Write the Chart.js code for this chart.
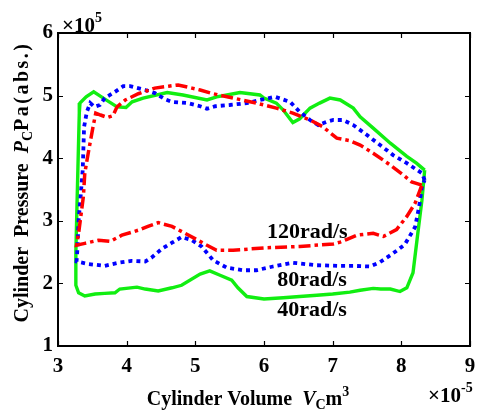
<!DOCTYPE html>
<html>
<head>
  <title>Cylinder Pressure vs Volume</title>
  <script src="https://cdn.jsdelivr.net/npm/chart.js"></script>
  <style>
    body {
      margin: 0;
      background: #fff;
    }
    #wrap {
      width: 478px;
      height: 414px;
      position: relative;
    }
  </style>
</head>
<body>

  <div id="wrap">
    <canvas id="pvChart"></canvas>
  </div>

  <script>
    // volume in 1e-5 m^3, pressure in 1e5 Pa
    const vol40 = [8.34, 8.22, 8.08, 7.84, 7.59, 7.40, 7.30, 7.11, 6.96, 6.81, 6.67, 6.52, 6.42, 6.28, 6.18, 6.00, 5.94, 5.65, 5.46, 5.31, 5.17, 4.82, 4.59, 4.24, 4.08, 3.99, 3.86, 3.66, 3.52, 3.41, 3.32, 3.31, 3.28, 3.26, 3.26, 3.30, 3.39, 3.54, 3.68, 3.83, 3.90, 4.15, 4.27, 4.46, 4.66, 4.80, 5.07, 5.21, 5.36, 5.53, 5.62, 5.75, 6.00, 6.28, 6.52, 6.77, 7.00, 7.25, 7.40, 7.59, 7.70, 7.84, 7.98, 8.08, 8.17, 8.24, 8.30, 8.34];
    const pres40 = [3.81, 3.92, 4.03, 4.24, 4.48, 4.66, 4.80, 4.93, 4.96, 4.88, 4.80, 4.63, 4.57, 4.77, 4.88, 4.96, 5.01, 5.05, 5.01, 4.98, 4.93, 5.01, 5.05, 4.96, 4.90, 4.81, 4.82, 4.96, 5.06, 4.98, 4.88, 4.72, 3.40, 2.50, 1.97, 1.85, 1.80, 1.83, 1.84, 1.85, 1.91, 1.94, 1.91, 1.88, 1.93, 1.97, 2.15, 2.20, 2.13, 2.05, 1.93, 1.79, 1.75, 1.77, 1.79, 1.81, 1.83, 1.86, 1.89, 1.92, 1.91, 1.91, 1.87, 1.93, 2.17, 2.80, 3.33, 3.81];

    const vol80 = [8.34, 8.30, 8.08, 7.88, 7.69, 7.50, 7.30, 7.15, 7.01, 6.91, 6.79, 6.67, 6.52, 6.38, 6.16, 5.94, 5.75, 5.50, 5.29, 5.17, 5.07, 4.89, 4.66, 4.56, 4.41, 4.27, 4.05, 3.95, 3.83, 3.68, 3.61, 3.53, 3.47, 3.42, 3.38, 3.36, 3.30, 3.28, 3.27, 3.44, 3.68, 3.88, 4.07, 4.27, 4.36, 4.51, 4.66, 4.80, 4.95, 5.09, 5.26, 5.46, 5.70, 5.89, 6.13, 6.42, 6.77, 7.11, 7.30, 7.54, 7.69, 7.88, 8.05, 8.20, 8.26, 8.30, 8.34];
    const pres80 = [3.65, 3.76, 3.92, 4.05, 4.21, 4.37, 4.53, 4.61, 4.61, 4.58, 4.53, 4.61, 4.74, 4.90, 4.98, 4.93, 4.88, 4.85, 4.83, 4.79, 4.83, 4.88, 4.90, 4.94, 5.04, 5.09, 5.15, 5.15, 5.06, 4.96, 4.85, 4.82, 4.88, 4.74, 4.50, 3.81, 3.00, 2.50, 2.35, 2.31, 2.28, 2.33, 2.36, 2.35, 2.41, 2.55, 2.65, 2.74, 2.69, 2.59, 2.37, 2.25, 2.21, 2.21, 2.27, 2.33, 2.29, 2.28, 2.28, 2.27, 2.34, 2.48, 2.62, 2.90, 3.23, 3.55, 3.65];

    const vol120 = [8.30, 8.15, 8.03, 7.84, 7.59, 7.40, 7.25, 7.06, 6.86, 6.67, 6.42, 6.18, 5.89, 5.55, 5.26, 5.07, 4.95, 4.75, 4.61, 4.41, 4.17, 3.98, 3.86, 3.80, 3.72, 3.62, 3.55, 3.51, 3.44, 3.39, 3.37, 3.30, 3.27, 3.39, 3.59, 3.76, 3.93, 4.17, 4.31, 4.46, 4.66, 4.85, 5.04, 5.17, 5.31, 5.55, 6.04, 6.52, 7.01, 7.11, 7.20, 7.35, 7.59, 7.74, 7.93, 8.08, 8.20, 8.30];
    const pres120 = [3.57, 3.62, 3.73, 3.89, 4.08, 4.21, 4.28, 4.32, 4.50, 4.61, 4.72, 4.80, 4.88, 4.96, 5.03, 5.09, 5.12, 5.17, 5.15, 5.12, 5.03, 4.93, 4.82, 4.68, 4.65, 4.69, 4.72, 4.50, 4.08, 3.76, 3.39, 2.80, 2.61, 2.64, 2.69, 2.67, 2.77, 2.85, 2.91, 2.97, 2.91, 2.80, 2.69, 2.61, 2.53, 2.53, 2.57, 2.59, 2.63, 2.66, 2.70, 2.77, 2.80, 2.75, 2.86, 3.07, 3.28, 3.57];

    const xTicks = [3, 4, 5, 6, 7, 8, 9];
    const yTicks = [1, 2, 3, 4, 5, 6];

    const rateLabels = ['120rad/s', '80rad/s', '40rad/s'];
    const rateLabelVol = [6.63, 6.70, 6.70];
    const rateLabelPres = [2.81, 2.05, 1.575];

    const FONT = '"Liberation Serif", "Times New Roman", serif';

    function toPoints(xs, ys) {
      return xs.map((x, i) => ({ x: x, y: ys[i] }));
    }

    // draws a run of text pieces (sub/superscripts) starting at x
    function richText(ctx, parts, x, y, align) {
      const width = p => {
        ctx.font = p.f;
        ctx.letterSpacing = p.ls || '0px';
        return ctx.measureText(p.t).width;
      };
      let total = 0;
      parts.forEach(p => { total += width(p); });
      let cx = align === 'center' ? x - total / 2 : x;
      parts.forEach(p => {
        const w = width(p);
        ctx.fillText(p.t, cx, y + (p.dy || 0));
        cx += w;
      });
      ctx.letterSpacing = '0px';
    }

    const axesDecor = {
      id: 'axesDecor',
      afterDraw(chart) {
        const ctx = chart.ctx;
        const a = chart.chartArea;
        const xs = chart.scales.x;
        const ys = chart.scales.y;
        ctx.save();
        ctx.strokeStyle = '#000';
        ctx.lineWidth = 1.2;
        ctx.beginPath();
        xTicks.forEach(v => {
          const px = Math.round(xs.getPixelForValue(v)) + 0.5;
          ctx.moveTo(px, a.bottom); ctx.lineTo(px, a.bottom - 5);
          ctx.moveTo(px, a.top); ctx.lineTo(px, a.top + 5);
        });
        yTicks.forEach(v => {
          const py = Math.round(ys.getPixelForValue(v)) + 0.5;
          ctx.moveTo(a.left, py); ctx.lineTo(a.left + 5, py);
          ctx.moveTo(a.right, py); ctx.lineTo(a.right - 5, py);
        });
        ctx.stroke();
        ctx.lineWidth = 2;
        ctx.strokeRect(a.left, a.top, a.right - a.left, a.bottom - a.top);

        ctx.fillStyle = '#000';
        ctx.textBaseline = 'middle';
        ctx.textAlign = 'center';
        ctx.font = 'bold 22px ' + FONT;
        rateLabels.forEach((t, i) => {
          ctx.fillText(t, xs.getPixelForValue(rateLabelVol[i]), ys.getPixelForValue(rateLabelPres[i]));
        });

        ctx.textAlign = 'left';
        ctx.textBaseline = 'alphabetic';
        const big = 'bold 20px ' + FONT;
        const ital = 'italic bold 20px ' + FONT;
        const small = 'bold 14px ' + FONT;

        // x title
        richText(ctx, [
          { t: 'Cylinder Volume  ', f: big },
          { t: 'V', f: ital },
          { t: 'C', f: small, dy: 4 },
          { t: 'm', f: big },
          { t: '3', f: small, dy: -9 }
        ], 248, 405, 'center');

        // y title
        ctx.save();
        ctx.translate(28, 182);
        ctx.rotate(-Math.PI / 2);
        richText(ctx, [
          { t: 'Cylinder  Pressure  ', f: big },
          { t: 'P', f: ital },
          { t: 'C', f: small, dy: 4 },
          { t: 'Pa(abs.)', f: big, ls: '2.5px' }
        ], 0, 0, 'center');
        ctx.restore();

        // exponent labels
        richText(ctx, [
          { t: '\u00d710', f: 'bold 21px ' + FONT },
          { t: '5', f: small, dy: -10 }
        ], 62, 32, 'left');
        richText(ctx, [
          { t: '\u00d710', f: 'bold 21px ' + FONT },
          { t: '-5', f: small, dy: -10 }
        ], 428, 402, 'left');
        ctx.restore();
      }
    };

    const ctx = document.getElementById('pvChart').getContext('2d');
    new Chart(ctx, {
      type: 'scatter',
      data: {
        datasets: [
          {
            label: '120rad/s',
            data: toPoints(vol120, pres120),
            showLine: true,
            borderColor: '#ff0000',
            borderWidth: 3.5,
            borderDash: [12, 4, 3.5, 4],
            pointRadius: 0,
            fill: false
          },
          {
            label: '80rad/s',
            data: toPoints(vol80, pres80),
            showLine: true,
            borderColor: '#0000ff',
            borderWidth: 3.8,
            borderDash: [4, 4],
            pointRadius: 0,
            fill: false
          },
          {
            label: '40rad/s',
            data: toPoints(vol40, pres40),
            showLine: true,
            borderColor: '#11ee11',
            borderWidth: 3.4,
            pointRadius: 0,
            fill: false
          }
        ]
      },
      options: {
        responsive: true,
        maintainAspectRatio: false,
        animation: false,
        layout: {
          padding: { left: 0, top: 33, right: 8, bottom: 0 }
        },
        plugins: {
          legend: { display: false },
          tooltip: { enabled: false }
        },
        scales: {
          x: {
            type: 'linear',
            min: 3,
            max: 9,
            afterBuildTicks: s => { s.ticks = xTicks.map(v => ({ value: v })); },
            afterFit: s => { s.height = 68; s.paddingLeft = 0; s.paddingRight = 0; },
            grid: { display: false, drawTicks: false },
            border: { display: false },
            ticks: {
              color: '#000',
              padding: 8,
              maxRotation: 0,
              font: { family: FONT, size: 21, weight: 'bold' }
            }
          },
          y: {
            type: 'linear',
            min: 1,
            max: 6,
            afterBuildTicks: s => { s.ticks = yTicks.map(v => ({ value: v })); },
            afterFit: s => { s.width = 58; s.paddingTop = 0; s.paddingBottom = 0; },
            grid: { display: false, drawTicks: false },
            border: { display: false },
            ticks: {
              color: '#000',
              padding: 5,
              font: { family: FONT, size: 21, weight: 'bold' }
            }
          }
        }
      },
      plugins: [axesDecor]
    });
  </script>

</body>
</html>
